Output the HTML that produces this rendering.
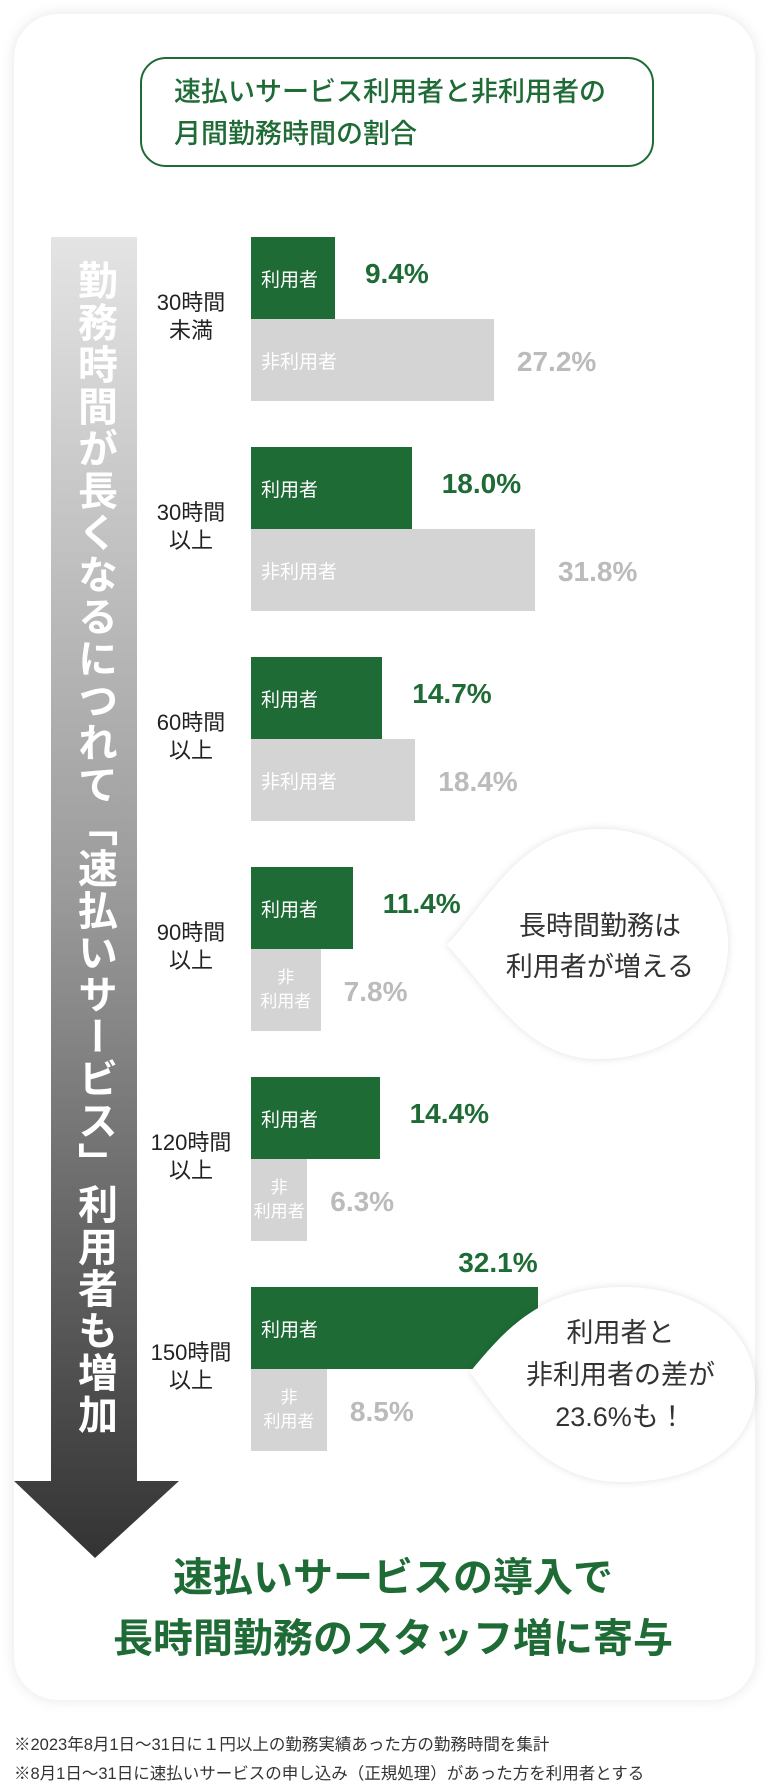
<!DOCTYPE html>
<html><head><meta charset="utf-8">
<style>
*{margin:0;padding:0;box-sizing:border-box}
body{width:776px;height:1776px;background:#fff;position:relative;overflow:hidden;font-family:"Liberation Sans","Noto Sans CJK JP",sans-serif}
.abs{position:absolute}
#card{left:14px;top:14px;width:741px;height:1686px;border-radius:44px;background:#fff;box-shadow:0 0 14px rgba(0,0,0,0.10)}
#title{left:140px;top:57px;width:514px;height:110px;border:2px solid #1e6b36;border-radius:26px;color:#1e6b36;font-size:27px;line-height:42px;padding:12px 0 0 32px;font-weight:500;white-space:nowrap}
.cat{font-size:22px;color:#222;text-align:center;width:100px;line-height:28px}
.bar{position:absolute}
.inlab{color:#fff;font-size:19px;position:absolute;white-space:nowrap}
.narrow{font-size:17px;display:flex;flex-direction:column;align-items:center}
.uv{color:#1e6b36;font-weight:bold;font-size:28px;position:absolute}
.nv{color:#bbb;font-weight:bold;font-size:28px;position:absolute}
#vtext{left:51px;top:260px;width:86px;writing-mode:vertical-rl;color:#fff;font-weight:bold;font-size:40px;letter-spacing:2px;display:flex;align-items:center;line-height:86px}
#concl{left:5px;top:1548px;width:776px;text-align:center;color:#1e6b36;font-weight:bold;font-size:40px;line-height:61px}
.foot{left:14px;font-size:16.5px;color:#333;white-space:nowrap}
</style></head><body>
<div id="card" class="abs"></div>
<div id="title" class="abs">速払いサービス利用者と非利用者の<br>月間勤務時間の割合</div>

<svg class="abs" style="left:0;top:0" width="776" height="1776">
<defs><linearGradient id="ag" x1="0" y1="0" x2="0" y2="1">
<stop offset="0" stop-color="#e4e4e4"/><stop offset="0.5" stop-color="#9a9a9a"/><stop offset="1" stop-color="#333"/></linearGradient></defs>
<path d="M51 237 H137 V1481 H179 L95 1558 L14 1481 H51 Z" fill="url(#ag)"/>
</svg>
<div id="vtext" class="abs">勤務時間が長くなるにつれて「速払いサービス」利用者も増加</div>

<div id="chart"></div>

<svg class="abs" style="left:0;top:0;pointer-events:none" width="776" height="1776">
<defs><filter id="sh" x="-20%" y="-20%" width="140%" height="140%"><feDropShadow dx="0" dy="0" stdDeviation="4" flood-color="#000" flood-opacity="0.12"/></filter></defs>
<g filter="url(#sh)">
<path d="M447 945 C490 900 520 831 598 829 C670 828 728 880 728 945 C728 1012 670 1059 598 1059 C525 1059 490 990 447 945 Z" fill="#fff"/>
</g>
<g filter="url(#sh)">
<path d="M470 1372 C505 1330 540 1288 622 1287 C700 1287 755 1330 755 1388 C755 1445 700 1482 622 1482 C545 1482 505 1420 470 1372 Z" fill="#fff"/>
</g>
</svg>
<div class="abs" style="left:462px;top:906px;width:276px;text-align:center;font-size:27px;line-height:41px;color:#333">長時間勤務は<br>利用者が増える</div>
<div class="abs" style="left:478px;top:1312px;width:285px;text-align:center;font-size:27px;line-height:42px;color:#333">利用者と<br>非利用者の差が<br>23.6%も！</div>

<div id="concl" class="abs">速払いサービスの導入で<br>長時間勤務のスタッフ増に寄与</div>
<div class="abs foot" style="top:1731px">※2023年8月1日〜31日に１円以上の勤務実績あった方の勤務時間を集計</div>
<div class="abs foot" style="top:1760px">※8月1日〜31日に速払いサービスの申し込み（正規処理）があった方を利用者とする</div>

<script>
const categoriesTop = ["30時間","30時間","60時間","90時間","120時間","150時間"];
const categoriesBottom = ["未満","以上","以上","以上","以上","以上"];
const userValues = [9.4, 18.0, 14.7, 11.4, 14.4, 32.1];
const nonUserValues = [27.2, 31.8, 18.4, 7.8, 6.3, 8.5];

const X0 = 251, PX = 8.93, ROW0 = 237, PITCH = 210, BH = 82;
function xs(v){ return v * PX; }
function rowTop(i){ return ROW0 + i * PITCH; }
const chart = document.getElementById('chart');
function mk(cls, css, html){
  const d = document.createElement('div');
  d.className = 'abs ' + cls;
  d.style.cssText = css;
  if (html !== undefined) d.innerHTML = html;
  chart.appendChild(d);
  return d;
}
const lastIdx = userValues.length - 1;
for (let i = 0; i < userValues.length; i++) {
  const t = rowTop(i);
  const c = mk('cat', `left:141px;top:${t + BH - 30}px`, categoriesTop[i] + '<br>' + categoriesBottom[i]);
  
  

  const uw = xs(userValues[i]);
  const ub = mk('bar', `left:${X0}px;top:${t}px;width:${uw}px;height:${BH}px;background:#1e6b36`);
  
  
  const ul = mk('inlab', `left:${X0 + 10}px;top:${t + BH/2 - 13}px`, '利用者');
  
  

  const nw = xs(nonUserValues[i]);
  const nb = mk('bar', `left:${X0}px;top:${t + BH}px;width:${nw}px;height:${BH}px;background:#d4d4d4`);
  
  
  let nl;
  if (nw > 100) nl = mk('inlab', `left:${X0 + 10}px;top:${t + BH + BH/2 - 13}px`, '非利用者');
  else nl = mk('inlab narrow', `left:${X0 + nw/2 - 40}px;width:80px;line-height:24px;top:${t + BH + BH/2 - 24}px`, '<span>非</span><span>利用者</span>');
  
  

  let uv;
  if (i === lastIdx) uv = mk('uv', `left:${X0 + uw - 120}px;width:120px;text-align:right;top:${t - 40}px`, userValues[i].toFixed(1) + '%');
  else uv = mk('uv', `left:${X0 + uw + 30}px;top:${t + BH/2 - 20}px`, userValues[i].toFixed(1) + '%');
  
  
  const nv = mk('nv', `left:${X0 + nw + 23}px;top:${t + BH + BH/2 - 14}px`, nonUserValues[i].toFixed(1) + '%');
  
  
}
</script>
</body></html>
